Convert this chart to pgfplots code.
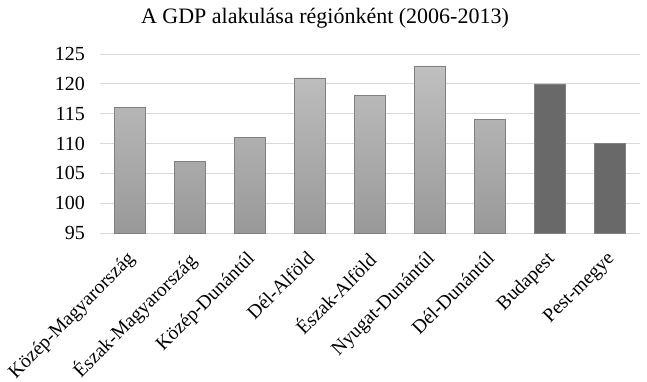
\documentclass[border=0pt]{standalone}
\usepackage{pgfplots}
\pgfplotsset{compat=1.18}
\usepackage{fontspec}
\setmainfont{Liberation Serif}
\definecolor{gridc}{HTML}{D9D9D9}
\definecolor{edgec}{HTML}{808080}
\definecolor{darkbar}{HTML}{696969}
\begin{document}
\begin{tikzpicture}
\begin{axis}[
  scale only axis,
  width=540pt, height=179pt,
  xmin=-0.5, xmax=8.5,
  ymin=95, ymax=125,
  ytick={95,100,...,125},
  xtick={0,...,8},
  xticklabels={Közép-Magyarország,Észak-Magyarország,Közép-Dunántúl,Dél-Alföld,Észak-Alföld,Nyugat-Dunántúl,Dél-Dunántúl,Budapest,Pest-megye},
  x tick label style={rotate=45, anchor=north east, font=\fontsize{19.5}{22}\selectfont, inner sep=0pt, xshift=-15pt, yshift=-9pt},
  y tick label style={font=\fontsize{20}{22}\selectfont, anchor=east, inner sep=0pt, xshift=-15pt},
  /pgf/number format/assume math mode=true,
  ymajorgrids, grid style={gridc, line width=1pt},
  major tick length=0pt,
  axis x line*=bottom,
  axis y line*=left,
  x axis line style={gridc, line width=1pt, -},
  y axis line style={draw=none},
  title={A GDP alakulása régiónként (2006-2013)},
  title style={font=\fontsize{22}{26}\selectfont, xshift=-45pt, yshift=16pt},
]
\coordinate (sw) at (rel axis cs:0,0);
\addplot[ybar, bar shift=0pt, bar width=0.52, draw=edgec, top color=black!25, bottom color=black!40, line width=0.6pt]
  coordinates {(0,116) (1,107) (2,111) (3,121) (4,118) (5,123) (6,114)};
\addplot[ybar, bar shift=0pt, bar width=0.52, draw=edgec, fill=darkbar, line width=0.6pt]
  coordinates {(7,120) (8,110)};
\end{axis}
\pgfresetboundingbox
\path (sw) ++(-100pt,-148pt) rectangle ++(647pt,381pt);
\end{tikzpicture}
\end{document}
